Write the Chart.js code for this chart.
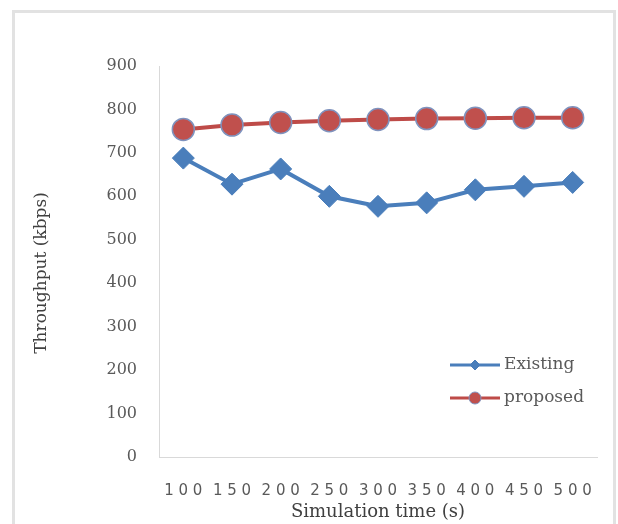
<!DOCTYPE html>
<html>
<head>
<meta charset="utf-8">
<script src="https://cdn.jsdelivr.net/npm/chart.js@4.4.1/dist/chart.umd.min.js"></script>
<style>
  html, body { margin: 0; padding: 0; background: #fff; overflow: hidden; }
  #frame { position: absolute; left: 12px; top: 10px; width: 598px; height: 540px; border: 3px solid #e2e2e2; }
  #wrap { position: absolute; left: 0; top: 0; width: 618px; height: 524px; }
</style>
</head>
<body>
<div id="frame"></div>
<div id="wrap"><canvas id="c" width="618" height="524"></canvas></div>
<script>
// Simulation time (s)
const simTimes = ['100', '150', '200', '250', '300', '350', '400', '450', '500'];
// Throughput (kbps)
const existing = [688, 628, 663, 600, 577, 585, 615, 623, 632];
const proposed = [754, 764, 770, 774, 777, 779, 780, 781, 781];
const yTicks = [0, 100, 200, 300, 400, 500, 600, 700, 800, 900];
const yTitle = 'Throughput (kbps)';

const serif = "'DejaVu Serif', 'Liberation Serif', serif";

// Vertical axis title, placed slightly below the middle of the axis
const yAxisTitle = {
  id: 'yAxisTitle',
  afterDraw(chart) {
    const ctx = chart.ctx;
    ctx.save();
    ctx.translate(42, 273);
    ctx.rotate(-Math.PI / 2);
    ctx.fillStyle = '#404040';
    ctx.font = "17px " + serif;
    ctx.textAlign = 'center';
    ctx.textBaseline = 'middle';
    ctx.fillText(yTitle, 0, 0);
    ctx.restore();
  }
};

// Legend drawn inside the plot area, lower right
const innerLegend = {
  id: 'innerLegend',
  afterDraw(chart) {
    const ctx = chart.ctx;
    const items = [
      { ds: chart.data.datasets[0], y: 365, r: 5 },
      { ds: chart.data.datasets[1], y: 398, r: 6 }
    ];
    const x0 = 450, x1 = 500, cx = (x0 + x1) / 2;
    ctx.save();
    items.forEach(it => {
      const ds = it.ds;
      ctx.strokeStyle = ds.borderColor;
      ctx.lineWidth = 3;
      ctx.beginPath();
      ctx.moveTo(x0, it.y);
      ctx.lineTo(x1, it.y);
      ctx.stroke();
      ctx.fillStyle = ds.pointBackgroundColor;
      ctx.strokeStyle = ds.pointBorderColor;
      ctx.lineWidth = 1;
      ctx.beginPath();
      if (ds.pointStyle === 'circle') {
        ctx.arc(cx, it.y, it.r, 0, Math.PI * 2);
      } else {
        ctx.moveTo(cx, it.y - it.r);
        ctx.lineTo(cx + it.r, it.y);
        ctx.lineTo(cx, it.y + it.r);
        ctx.lineTo(cx - it.r, it.y);
        ctx.closePath();
      }
      ctx.fill();
      ctx.stroke();
      ctx.fillStyle = '#595959';
      ctx.font = "17px " + serif;
      ctx.textAlign = 'left';
      ctx.textBaseline = 'middle';
      ctx.fillText(ds.label, x1 + 4, it.y);
    });
    ctx.restore();
  }
};

new Chart(document.getElementById('c'), {
  type: 'line',
  data: {
    labels: simTimes,
    datasets: [
      {
        label: 'Existing',
        data: existing,
        borderColor: '#4A7EBB',
        backgroundColor: '#4A7EBB',
        borderWidth: 4,
        pointStyle: 'rectRot',
        pointRadius: 11,
        pointBackgroundColor: '#4A7EBB',
        pointBorderColor: '#4A7EBB',
        pointBorderWidth: 1,
        tension: 0
      },
      {
        label: 'proposed',
        data: proposed,
        borderColor: '#BE4B48',
        backgroundColor: '#C0504D',
        borderWidth: 4,
        pointStyle: 'circle',
        pointRadius: 11,
        pointBackgroundColor: '#C0504D',
        pointBorderColor: '#7F93BE',
        pointBorderWidth: 1.5,
        tension: 0
      }
    ]
  },
  options: {
    responsive: false,
    animation: false,
    events: [],
    layout: { padding: { left: 0, right: 21, top: 66, bottom: 0 } },
    plugins: { legend: { display: false }, tooltip: { enabled: false } },
    scales: {
      x: {
        offset: true,
        grid: { display: false, drawTicks: false },
        border: { display: true, color: '#d9d9d9', width: 1 },
        ticks: {
          padding: 25,
          color: '#595959',
          font: { family: "'DejaVu Sans', sans-serif", size: 15 },
          maxRotation: 0,
          autoSkip: false,
          callback: (v, i) => simTimes[i].split('').join(' ')
        },
        title: {
          display: true,
          text: 'Simulation time (s)',
          color: '#404040',
          font: { family: serif, size: 18 },
          padding: { top: 0, bottom: 1 }
        },
        afterFit: s => { s.height = 67; }
      },
      y: {
        min: 0,
        max: 900,
        afterBuildTicks: s => { s.ticks = yTicks.map(v => ({ value: v })); },
        grid: { display: false, drawTicks: false },
        border: { display: true, color: '#d9d9d9', width: 1 },
        ticks: {
          padding: 22,
          color: '#595959',
          font: { family: serif, size: 16 }
        },
        afterFit: s => { s.width = 159; }
      }
    }
  },
  plugins: [yAxisTitle, innerLegend]
});
</script>
</body>
</html>
